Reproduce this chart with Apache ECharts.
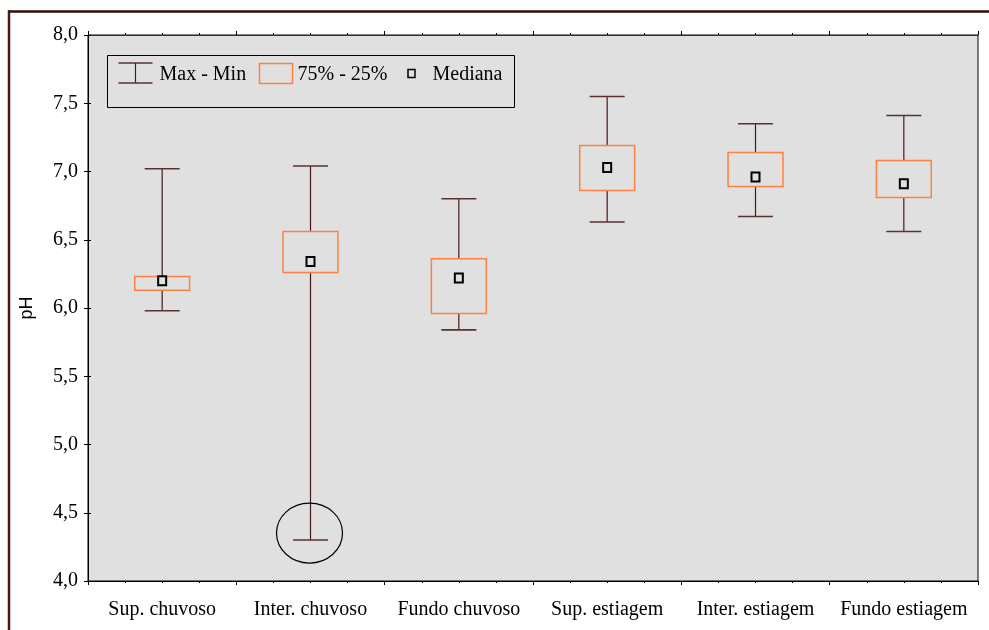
<!DOCTYPE html>
<html>
<head>
<meta charset="utf-8">
<title>pH</title>
<script src="https://cdn.jsdelivr.net/npm/echarts@6/dist/echarts.min.js"></script>
<style>
  html, body { margin: 0; padding: 0; background: #ffffff; }
  #chart { width: 989px; height: 630px; }
</style>
</head>
<body>
<div id="chart"></div>
<script>
// Box-plot summary of pH per sampling depth and season
const categories = ['Sup. chuvoso', 'Inter. chuvoso', 'Fundo chuvoso', 'Sup. estiagem', 'Inter. estiagem', 'Fundo estiagem'];
const maxVals    = [7.02, 7.04, 6.80, 7.55, 7.35, 7.41];
const q3Vals     = [6.23, 6.56, 6.36, 7.19, 7.14, 7.08];
const medianVals = [6.20, 6.34, 6.22, 7.03, 6.96, 6.91];
const q1Vals     = [6.13, 6.26, 5.96, 6.86, 6.89, 6.81];
const minVals    = [5.98, 4.30, 5.84, 6.63, 6.67, 6.56];
const yTicks     = [4.0, 4.5, 5.0, 5.5, 6.0, 6.5, 7.0, 7.5, 8.0];
// the highlighted outlier (minimum of "Inter. chuvoso")
const highlightIndex = 1;

const SERIF = '"Liberation Serif", "DejaVu Serif", serif';
const WHISKER = '#4a1818';
const CAP = '#5a3030';
const BOX = '#ff8040';
const PLOT_BG = '#e0e0e0';

const chart = echarts.init(document.getElementById('chart'), null, { renderer: 'canvas' });

function renderWhisker(params, api) {
  const i = api.value(0);
  const hi = api.coord([i, api.value(1)]);
  const top = api.coord([i, api.value(2)]);
  const bot = api.coord([i, api.value(3)]);
  const lo = api.coord([i, api.value(4)]);
  const band = api.size([1, 0])[0];
  const half = band * 0.118;
  const vStyle = { stroke: WHISKER, lineWidth: 1.2 };
  const cStyle = { stroke: CAP, lineWidth: 1.6 };
  return {
    type: 'group',
    children: [
      { type: 'line', shape: { x1: hi[0], y1: hi[1], x2: top[0], y2: top[1] }, style: vStyle },
      { type: 'line', shape: { x1: bot[0], y1: bot[1], x2: lo[0], y2: lo[1] }, style: vStyle },
      { type: 'line', shape: { x1: hi[0] - half, y1: hi[1], x2: hi[0] + half, y2: hi[1] }, style: cStyle },
      { type: 'line', shape: { x1: lo[0] - half, y1: lo[1], x2: lo[0] + half, y2: lo[1] }, style: cStyle }
    ]
  };
}

function renderBox(params, api) {
  const i = api.value(0);
  const top = api.coord([i, api.value(1)]);
  const bot = api.coord([i, api.value(2)]);
  const band = api.size([1, 0])[0];
  const w = band * 0.37;
  return {
    type: 'rect',
    shape: { x: top[0] - w / 2, y: top[1], width: w, height: bot[1] - top[1] },
    style: { fill: 'none', stroke: BOX, lineWidth: 1.5 }
  };
}

function renderMedian(params, api) {
  const p = api.coord([api.value(0), api.value(1)]);
  return {
    type: 'rect',
    shape: { x: p[0] - 4, y: p[1] - 4.5, width: 8, height: 9 },
    style: { fill: 'none', stroke: '#000000', lineWidth: 2 }
  };
}

function renderHighlight(params, api) {
  const p = api.coord([api.value(0), api.value(1)]);
  return {
    type: 'ellipse',
    shape: { cx: p[0] - 1, cy: p[1] - 7, rx: 33, ry: 30 },
    style: { fill: 'none', stroke: '#000000', lineWidth: 1.2 }
  };
}

const fmt = v => v.toFixed(1).replace('.', ',');

const tickAxisBase = {
  type: 'value', min: 0, max: 6, interval: 1,
  axisLabel: { show: false }, splitLine: { show: false },
  axisTick: { show: true, length: 4, lineStyle: { color: '#000' } },
  minorTick: { show: true, splitNumber: 4, length: 2, lineStyle: { color: '#000' } }
};

const option = {
  backgroundColor: '#ffffff',
  animation: false,
  grid: {
    left: 88, right: 11, top: 35, bottom: 49,
    show: true, backgroundColor: PLOT_BG, borderColor: '#000', borderWidth: 1
  },
  xAxis: [
    {
      type: 'category', data: categories, position: 'bottom', boundaryGap: true,
      axisLine: { show: true, lineStyle: { color: '#000', width: 1 } },
      axisTick: { show: false },
      axisLabel: { color: '#000', fontFamily: SERIF, fontSize: 20, margin: 19, interval: 0 },
      splitLine: { show: false }
    },
    Object.assign({}, tickAxisBase, { position: 'bottom', axisLine: { show: false } }),
    Object.assign({}, tickAxisBase, { position: 'top', axisLine: { show: true, lineStyle: { color: '#333' } } })
  ],
  yAxis: [
    {
      type: 'value', min: 4, max: 8, interval: 0.5, position: 'left',
      name: 'pH', nameLocation: 'middle', nameGap: 52, nameRotate: 90,
      nameTextStyle: { color: '#000', fontFamily: '"Liberation Sans", Arial, sans-serif', fontSize: 18 },
      axisLine: { show: true, lineStyle: { color: '#000' } },
      axisTick: { show: true, inside: true, length: 3, lineStyle: { color: '#000' } },
      axisLabel: { color: '#000', fontFamily: SERIF, fontSize: 20, margin: 10, formatter: fmt },
      splitLine: { show: false }
    },
    {
      type: 'value', min: 4, max: 8, interval: 0.5, position: 'right',
      axisLine: { show: true, lineStyle: { color: '#000' } },
      axisTick: { show: true, inside: true, length: 4, lineStyle: { color: '#000' } },
      axisLabel: { show: false },
      splitLine: { show: false }
    }
  ],
  series: [
    {
      name: 'Max - Min', type: 'custom', xAxisIndex: 0, yAxisIndex: 0,
      renderItem: renderWhisker, clip: false,
      encode: { x: 0, y: [1, 2, 3, 4] },
      data: categories.map((c, i) => [i, maxVals[i], q3Vals[i], q1Vals[i], minVals[i]])
    },
    {
      name: '75% - 25%', type: 'custom', xAxisIndex: 0, yAxisIndex: 0,
      renderItem: renderBox, clip: false,
      encode: { x: 0, y: [1, 2] },
      data: categories.map((c, i) => [i, q3Vals[i], q1Vals[i]])
    },
    {
      name: 'Mediana', type: 'custom', xAxisIndex: 0, yAxisIndex: 0,
      renderItem: renderMedian, clip: false,
      encode: { x: 0, y: 1 },
      data: categories.map((c, i) => [i, medianVals[i]])
    },
    {
      name: 'destaque', type: 'custom', xAxisIndex: 0, yAxisIndex: 0,
      renderItem: renderHighlight, clip: false, silent: true,
      encode: { x: 0, y: 1 },
      data: [[highlightIndex, minVals[highlightIndex]]]
    }
  ],
  graphic: [
    // outer frame (top and left rules)
    { type: 'line', shape: { x1: 8, y1: 11.5, x2: 989, y2: 11.5 }, style: { stroke: '#3a0a0a', lineWidth: 2.5 } },
    { type: 'line', shape: { x1: 9, y1: 10, x2: 9, y2: 630 }, style: { stroke: '#4a1a1a', lineWidth: 2.5 } },
    // legend box
    {
      type: 'group', left: 107, top: 55,
      children: [
        { type: 'rect', shape: { x: 0, y: 0, width: 407, height: 52 }, style: { fill: PLOT_BG, stroke: '#000', lineWidth: 1 } },
        { type: 'line', shape: { x1: 11, y1: 7.5, x2: 45, y2: 7.5 }, style: { stroke: CAP, lineWidth: 1.6 } },
        { type: 'line', shape: { x1: 28, y1: 7.5, x2: 28, y2: 27.5 }, style: { stroke: WHISKER, lineWidth: 1.2 } },
        { type: 'line', shape: { x1: 11, y1: 27.5, x2: 45, y2: 27.5 }, style: { stroke: CAP, lineWidth: 1.6 } },
        { type: 'text', x: 52, y: 19, style: { text: 'Max - Min', fill: '#000', font: '20px ' + SERIF, textVerticalAlign: 'middle' } },
        { type: 'rect', shape: { x: 152, y: 8, width: 33, height: 20 }, style: { fill: 'none', stroke: BOX, lineWidth: 1.5 } },
        { type: 'text', x: 190, y: 19, style: { text: '75% - 25%', fill: '#000', font: '20px ' + SERIF, textVerticalAlign: 'middle' } },
        { type: 'rect', shape: { x: 300.5, y: 14, width: 7, height: 8 }, style: { fill: 'none', stroke: '#000', lineWidth: 1.5 } },
        { type: 'text', x: 325, y: 19, style: { text: 'Mediana', fill: '#000', font: '20px ' + SERIF, textVerticalAlign: 'middle' } }
      ]
    }
  ]
};

chart.setOption(option);
</script>
</body>
</html>
